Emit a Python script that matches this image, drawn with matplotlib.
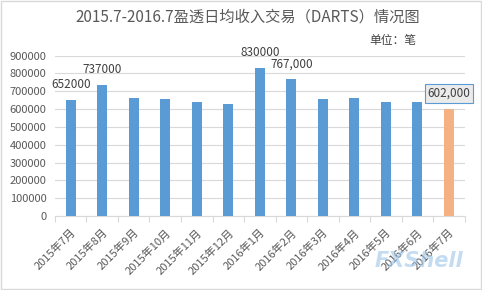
import matplotlib
matplotlib.use("Agg")
import matplotlib.pyplot as plt
from matplotlib.patches import Rectangle
import numpy as np

plt.rcParams["font.family"] = ["Noto Sans CJK SC", "DejaVu Sans"]

# 数据
months = ["2015年7月", "2015年8月", "2015年9月", "2015年10月", "2015年11月",
          "2015年12月", "2016年1月", "2016年2月", "2016年3月", "2016年4月",
          "2016年5月", "2016年6月", "2016年7月"]
darts = [652000, 737000, 662000, 657000, 640000, 629000, 830000, 767000,
         656000, 662000, 640000, 640000, 602000]
# 带标签的柱: 索引 -> 标签文字
labels = {0: "652000", 1: "737000", 6: "830000", 7: "767,000", 12: "602,000"}

blue = "#5b9bd5"
orange = "#f4b183"
grey = "#595959"

fig = plt.figure(figsize=(4.82, 2.9), dpi=100)
ax = fig.add_axes([0.114, 0.255, 0.850, 0.553])

x = np.arange(len(months))
colors = [blue] * (len(months) - 1) + [orange]
ax.bar(x, darts, width=0.32, color=colors, zorder=3)

ax.set_xlim(-0.5, len(months) - 0.5)
ax.set_ylim(0, 900000)
ax.set_yticks(np.arange(0, 900001, 100000))
ax.set_yticklabels([str(v) for v in range(0, 900001, 100000)])
ax.grid(axis="y", color="#d9d9d9", linewidth=0.8, zorder=0)

for s in ["left", "right", "top"]:
    ax.spines[s].set_visible(False)
ax.spines["bottom"].set_color("#d9d9d9")
ax.tick_params(axis="y", length=0, labelsize=8, labelcolor=grey, pad=6)

# x 轴: 分隔刻度在类别边界
ax.set_xticks(np.arange(-0.5, len(months), 1.0))
ax.set_xticklabels([])
ax.tick_params(axis="x", which="major", length=4, color="#d9d9d9")
ax.set_xticks(x, minor=True)
ax.set_xticklabels(months, minor=True, rotation=45, ha="right", va="top",
                   rotation_mode="anchor", fontsize=8, color=grey)
ax.tick_params(axis="x", which="minor", length=0, pad=8)

for i, txt in labels.items():
    if i == len(months) - 1:
        ax.annotate(txt, (x[i], darts[i]), xytext=(0, 11), textcoords="offset points",
                    ha="center", va="center", fontsize=8.5, color="#404040",
                    bbox=dict(boxstyle="square,pad=0.25", fc="#ebebeb", ec="#5b9bd5", lw=0.8))
    else:
        ax.annotate(txt, (x[i], darts[i]), xytext=(0, 11), textcoords="offset points",
                    ha="center", va="center", fontsize=8.5, color="#404040")

fig.text(0.513, 0.94, "2015.7-2016.7盈透日均收入交易（DARTS）情况图",
         ha="center", va="center", fontsize=11, color=grey)
fig.text(0.815, 0.862, "单位：笔", ha="center", va="center", fontsize=8.5, color="#404040")

# 水印
fig.text(0.87, 0.1, "FXShell", ha="center", va="center", fontsize=15,
         fontweight="bold", style="italic", color="#9ec5e8", alpha=0.6,
         family=["DejaVu Sans"])

fig.patches.append(Rectangle((0.002, 0.003), 0.995, 0.994, transform=fig.transFigure,
                             fill=False, ec="#d9d9d9", lw=1))

fig.savefig("out.png", dpi=100)
